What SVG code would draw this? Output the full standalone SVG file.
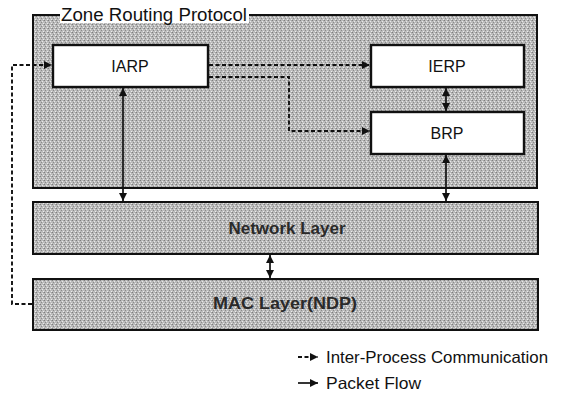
<svg xmlns="http://www.w3.org/2000/svg" width="566" height="403" viewBox="0 0 566 403">
  <defs>
    <!-- speckled gray used for the protocol and layer panels -->
    <pattern id="stipple" width="4" height="4" patternUnits="userSpaceOnUse">
      <rect width="4" height="4" fill="#bbbbbb"/>
      <rect x="0" y="0" width="1" height="1" fill="#7e7e7e"/>
      <rect x="2" y="1" width="1" height="1" fill="#e8e8e8"/>
      <rect x="1" y="2" width="1" height="1" fill="#8a8a8a"/>
      <rect x="3" y="3" width="1" height="1" fill="#ececec"/>
      <rect x="3" y="0" width="1" height="1" fill="#a4a4a4"/>
    </pattern>
    <marker id="head" viewBox="0 0 10 10" refX="10" refY="5" markerWidth="9" markerHeight="8" markerUnits="userSpaceOnUse" orient="auto-start-reverse">
      <path d="M0,0 L10,5 L0,10 z" fill="#111"/>
    </marker>
  </defs>
  <style>
    .panel { fill: url(#stipple); stroke: #111; stroke-width: 2; }
    .box { fill: #ffffff; stroke: #111; stroke-width: 2.4; }
    .lbl { font-family: "Liberation Sans", Arial, sans-serif; font-size: 16px; fill: #111; text-anchor: middle; }
    .layer { font-family: "Liberation Sans", Arial, sans-serif; font-size: 17px; font-weight: bold; fill: #2a2a2a; text-anchor: middle; }
    .title { font-family: "Liberation Sans", Arial, sans-serif; font-size: 18px; fill: #111; }
    .legend { font-family: "Liberation Sans", Arial, sans-serif; font-size: 16.5px; fill: #111; }
    .ipc { fill: none; stroke: #111; stroke-width: 1.9; stroke-dasharray: 4 2.5; }
    .pkt { fill: none; stroke: #111; stroke-width: 1.7; }
  </style>

  <!-- Zone Routing Protocol container; the caption breaks the top border -->
  <g id="zrp">
    <rect class="panel" x="33" y="15" width="504" height="173"/>
    <rect x="60" y="6" width="189" height="17" fill="#ffffff"/>
    <text class="title" x="61" y="21" textLength="186" lengthAdjust="spacingAndGlyphs">Zone Routing Protocol</text>
  </g>

  <g id="iarp">
    <rect class="box" x="53" y="45" width="155" height="42"/>
    <text class="lbl" x="130" y="72">IARP</text>
  </g>

  <g id="ierp">
    <rect class="box" x="371" y="45" width="153" height="42"/>
    <text class="lbl" x="447" y="72">IERP</text>
  </g>

  <g id="brp">
    <rect class="box" x="371" y="112" width="153" height="42"/>
    <text class="lbl" x="447" y="139">BRP</text>
  </g>

  <g id="network-layer">
    <rect class="panel" x="33" y="202" width="505" height="52"/>
    <text class="layer" x="287" y="234" textLength="117" lengthAdjust="spacingAndGlyphs">Network Layer</text>
  </g>

  <g id="mac-layer">
    <rect class="panel" x="33" y="279" width="505" height="51"/>
    <text class="layer" x="285" y="309" textLength="144" lengthAdjust="spacingAndGlyphs">MAC Layer(NDP)</text>
  </g>

  <g id="connectors">
    <!-- inter-process communication -->
    <path class="ipc" d="M209,65 H370" marker-end="url(#head)"/>
    <path class="ipc" d="M209,77 H289 V131 H370" marker-end="url(#head)"/>
    <path class="ipc" d="M32,304 H12 V65 H52" marker-end="url(#head)"/>
    <!-- packet flow -->
    <path class="pkt" d="M123,88 V201" marker-start="url(#head)" marker-end="url(#head)"/>
    <path class="pkt" d="M446,88 V111" marker-start="url(#head)" marker-end="url(#head)"/>
    <path class="pkt" d="M446,155 V201" marker-start="url(#head)" marker-end="url(#head)"/>
    <path class="pkt" d="M270,255 V278" marker-start="url(#head)" marker-end="url(#head)"/>
  </g>

  <!-- key -->
  <g id="legend">
    <path class="ipc" d="M298,357 H318" marker-end="url(#head)"/>
    <text class="legend" x="326" y="363" textLength="222" lengthAdjust="spacingAndGlyphs">Inter-Process Communication</text>
    <path class="pkt" d="M298,383 H318" marker-end="url(#head)"/>
    <text class="legend" x="326" y="389" textLength="95" lengthAdjust="spacingAndGlyphs">Packet Flow</text>
  </g>
</svg>
